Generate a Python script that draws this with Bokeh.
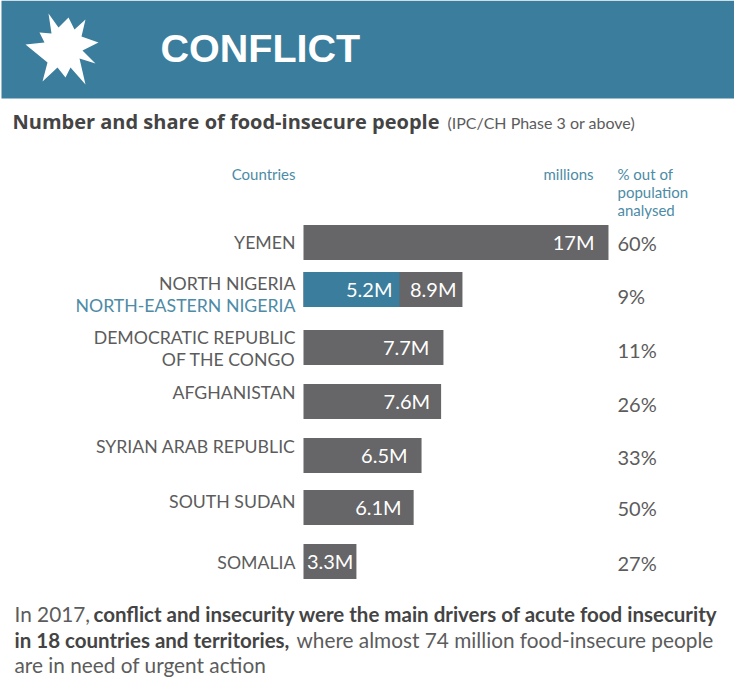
from bokeh.core.properties import value
from bokeh.embed import file_html
from bokeh.models import Range1d
from bokeh.plotting import figure
from bokeh.resources import INLINE

countries = ["YEMEN", "NORTH NIGERIA", "DEMOCRATIC REPUBLIC\nOF THE CONGO", "AFGHANISTAN",
             "SYRIAN ARAB REPUBLIC", "SOUTH SUDAN", "SOMALIA"]
# bar lengths as measured on the picture, in millions
millions = [17.0, 8.86, 7.8, 7.67, 6.58, 6.14, 2.95]
bar_labels = ["17M", "8.9M", "7.7M", "7.6M", "6.5M", "6.1M", "3.3M"]
shares = ["60%", "9%", "11%", "26%", "33%", "50%", "27%"]
north_east = [5.35]
north_east_label = ["5.2M"]

# layout, all y values in page pixels
WIDTH, HEIGHT = 734, 682
row_y = [242, 289, 347, 401, 455, 507, 561]
share_y = [243, 296, 350, 404, 457, 508, 563]
country_y = [243, 284, 349, 393, 447, 502, 563]
label_pad = [14, 6, 14, 11, 14, 12, 3]
BAR_H = 35
PX_PER_M = 17.94
X0 = 303

DARK = "#666567"
TEAL = "#3b7d9c"
TEXT = "#5c5c5c"
HEAD = "#4d8ba6"

# outline of the burst icon, in page pixels
burst_x = [48, 58, 68, 74, 85, 81, 98, 82, 95, 79, 85, 70, 65, 57, 42, 47, 25, 44, 39, 51]
burst_y = [13, 27, 17, 29, 19, 36, 42, 50, 63, 58, 84, 67, 77, 67, 81, 62, 44, 42, 32, 33]


def page(x, y, text, size, color=TEXT, align="left", style="normal", font="Lato"):
    p.text([x], [y - 1], text=[text], x_range_name="px", text_font=value(font), text_font_size=f"{size}px",
           text_color=color, text_align=align, text_baseline="middle", text_font_style=style)


p = figure(width=WIDTH, height=HEIGHT, output_backend="svg", toolbar_location=None,
           x_range=Range1d(-X0 / PX_PER_M, (WIDTH - X0) / PX_PER_M),
           y_range=Range1d(HEIGHT, 0), min_border=0, outline_line_color=None)
p.extra_x_ranges = {"px": Range1d(0, WIDTH)}
p.axis.visible = False
p.grid.visible = False

# header
p.quad(left=[1], right=[WIDTH], top=[0], bottom=[98], x_range_name="px", fill_color=TEAL,
       line_color=None)
p.patch(burst_x, burst_y, x_range_name="px", fill_color="white", line_color=None)
page(160, 48, "CONFLICT", 39.5, "white", style="bold", font="Liberation Sans")

page(12, 122, "Number and share of food-insecure people", 20, "#444444", style="bold", font="Open Sans")
page(447, 123, "(IPC/CH Phase 3 or above)", 16)

page(295, 174, "Countries", 15, HEAD, align="right")
page(593, 174, "millions", 15, HEAD, align="right")
page(617, 174, "% out of", 15, HEAD)
page(617, 192, "population", 15, HEAD)
page(617, 210, "analysed", 15, HEAD)

# bars
p.hbar(y=row_y, left=0, right=millions, height=BAR_H, fill_color=DARK, line_color=None)
p.hbar(y=row_y[1:2], left=0, right=north_east, height=BAR_H, fill_color=TEAL, line_color=None)

for i, name in enumerate(countries):
    lines = name.split("\n")
    for j, line in enumerate(lines):
        page(295, country_y[i] - 11 * (len(lines) - 1) + 22 * j, line, 17.7, align="right")
    page(617, share_y[i], shares[i], 20)
    end = X0 + millions[i] * PX_PER_M
    page(end - label_pad[i], row_y[i], bar_labels[i], 20, "white", align="right")
page(295, 306, "NORTH-EASTERN NIGERIA", 17.7, HEAD, align="right")
page(X0 + north_east[0] * PX_PER_M - 7, row_y[1], north_east_label[0], 20, "white", align="right")

# closing note
page(14, 614, "In 2017,", 20.8)
page(93, 614, "conflict and insecurity were the main drivers of acute food insecurity", 20.5, "#444444", style="bold")
page(14, 640, "in 18 countries and territories,", 20.5, "#444444", style="bold")
page(296, 640, "where almost 74 million food-insecure people", 20.8)
page(14, 665, "are in need of urgent action", 20.8)

open("out.html", "w").write(file_html(p, INLINE))
